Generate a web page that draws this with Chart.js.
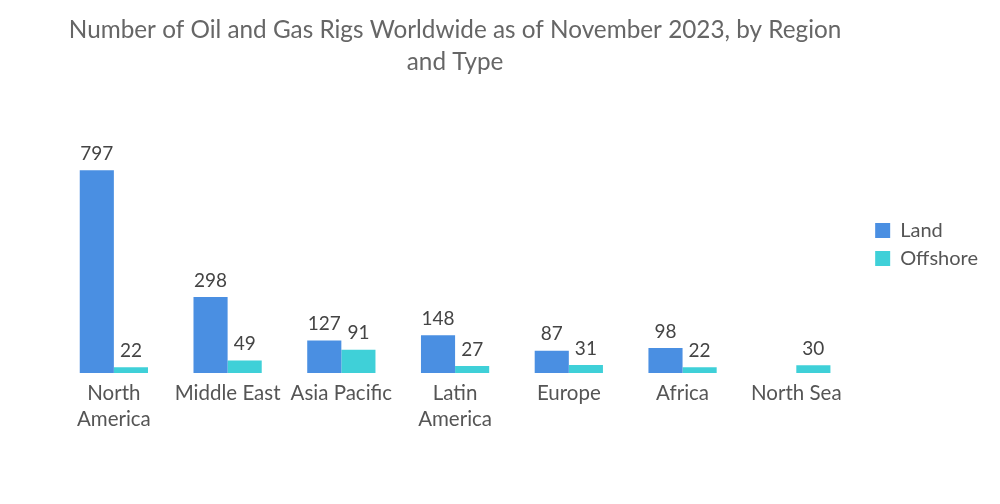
<!DOCTYPE html>
<html>
<head>
<meta charset="utf-8">
<script src="https://cdn.jsdelivr.net/npm/chart.js@4.4.0/dist/chart.umd.min.js"></script>
<style>
  html, body { margin: 0; padding: 0; background: #fff; }
  #wrap { width: 1000px; height: 504px; }
</style>
</head>
<body>
<div id="wrap"><canvas id="chart"></canvas></div>
<script>
// values
const regions = [['North', 'America'], 'Middle East', 'Asia Pacific', ['Latin', 'America'], 'Europe', 'Africa', 'North Sea'];
const landRigs = [797, 298, 127, 148, 87, 98, null];
const offshoreRigs = [22, 49, 91, 27, 31, 22, 30];

const valueLabels = {
    id: 'valueLabels',
    afterDatasetsDraw(chart) {
        const ctx = chart.ctx;
        ctx.save();
        ctx.font = '19px Lato';
        ctx.fillStyle = '#444';
        ctx.textAlign = 'center';
        ctx.textBaseline = 'bottom';
        chart.data.datasets.forEach(function(ds, i) {
            chart.getDatasetMeta(i).data.forEach(function(bar, j) {
                if (ds.data[j] == null) return;
                ctx.fillText(ds.data[j], bar.x, bar.y - 7);
            });
        });
        ctx.restore();
    }
};

// nudge the legend a bit right and up, like the original
const legendShift = {
    id: 'legendShift',
    afterLayout(chart) {
        const lg = chart.legend;
        if (!lg) return;
        lg.left += 14; lg.right += 14;
        lg.top -= 12; lg.bottom -= 12;
    }
};

new Chart(document.getElementById('chart'), {
    type: 'bar',
    data: {
        labels: regions,
        datasets: [
            { label: 'Land', data: landRigs, backgroundColor: '#4a8fe2' },
            { label: 'Offshore', data: offshoreRigs, backgroundColor: '#3fd0d8' }
        ]
    },
    options: {
        responsive: true,
        maintainAspectRatio: false,
        animation: false,
        datasets: { bar: { categoryPercentage: 0.6, barPercentage: 1 } },
        layout: { padding: { left: 57, right: 26, top: 10, bottom: 65 } },
        scales: {
            x: {
                grid: { display: false, drawTicks: false },
                border: { display: false },
                ticks: { color: '#555', padding: 7, font: { family: 'Lato', size: 20.5, lineHeight: 1.27 }, maxRotation: 0, autoSkip: false }
            },
            y: { display: false, min: 0, max: 915 }
        },
        plugins: {
            title: {
                display: true,
                fullSize: false,
                text: ['Number of Oil and Gas Rigs Worldwide as of November 2023, by Region', 'and Type'],
                color: '#666',
                font: { family: 'Lato', size: 24.3, weight: 'normal', lineHeight: 1.32 },
                padding: { top: 4, bottom: 62 }
            },
            legend: {
                position: 'right',
                fullSize: false,
                labels: { color: '#555', font: { family: 'Lato', size: 20 }, boxWidth: 15, boxHeight: 15, padding: 8 }
            },
            tooltip: { enabled: false }
        }
    },
    plugins: [valueLabels, legendShift]
});
</script>
</body>
</html>
